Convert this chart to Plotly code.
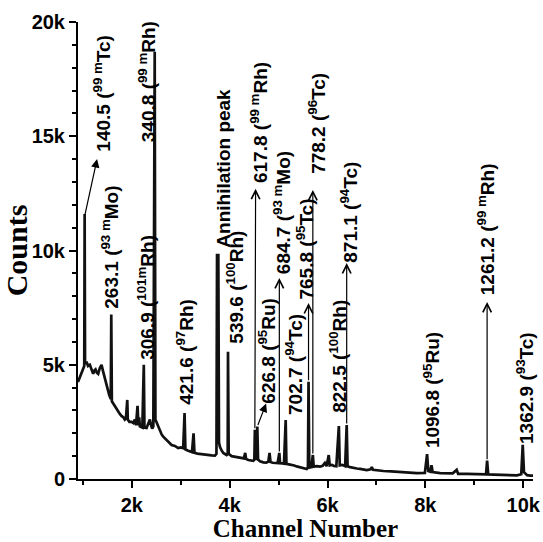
import plotly.graph_objects as go

# ---------------- data ----------------
channel = [900, 935, 972, 1005, 1028, 1036, 1044, 1074, 1105, 1142, 1175, 1210, 1235, 1258,
           1285, 1312, 1345, 1381, 1414, 1450, 1483, 1510, 1537, 1570, 1580, 1592, 1620,
           1653, 1690, 1721, 1755, 1789, 1825, 1857, 1880, 1907, 1918, 1950, 1995, 2030,
           2062, 2085, 2117, 2135, 2150, 2165, 2185, 2215, 2245, 2258, 2302, 2340, 2369,
           2395, 2416, 2440, 2452, 2468, 2482, 2510, 2539, 2573, 2610, 2642, 2711, 2760,
           2813, 2880, 2948, 3000, 3050, 3078, 3095, 3140, 3187, 3230, 3262, 3280, 3340,
           3392, 3480, 3562, 3630, 3699, 3730, 3742, 3768, 3782, 3801, 3835, 3869, 3937,
           3960, 3966, 3980, 4040, 4100, 4142, 4200, 4245, 4290, 4318, 4335, 4381, 4430,
           4484, 4505, 4515, 4527, 4550, 4565, 4580, 4620, 4687, 4750, 4790, 4815, 4835,
           4880, 4926, 4980, 5015, 5030, 5080, 5110, 5145, 5160, 5210, 5268, 5320, 5371,
           5420, 5473, 5530, 5575, 5600, 5612, 5628, 5670, 5700, 5718, 5780, 5847, 5900,
           5945, 5980, 6025, 6045, 6090, 6130, 6180, 6232, 6250, 6300, 6360, 6392, 6410,
           6460, 6528, 6600, 6665, 6740, 6802, 6880, 6905, 6930, 7000, 7142, 7300, 7484,
           7650, 7825, 7990, 8035, 8060, 8100, 8125, 8150, 8302, 8450, 8560, 8640, 8670,
           8848, 9000, 9120, 9240, 9262, 9285, 9400, 9529, 9700, 9871, 9960, 9990, 10015,
           10080, 10143, 10200]
counts = [4250, 4450, 4640, 4800, 4950, 11600, 5050, 5130, 4950, 5000, 4750, 4600, 4750, 4800,
          4650, 4600, 4850, 5000, 4700, 4400, 4100, 3850, 3680, 3500, 7200, 3400, 3300,
          3190, 3050, 2950, 2850, 2760, 2700, 2600, 2650, 3460, 2600, 2500, 2500, 2450,
          2600, 2350, 3200, 2350, 2700, 2300, 2290, 2250, 5000, 2250, 2230, 2400, 2600,
          2350, 2200, 2300, 17200, 18700, 2600, 2450, 2360, 2100, 1950, 1850, 1700, 1580,
          1490, 1450, 1350, 1380, 1350, 2890, 1300, 1250, 1200, 1180, 2000, 1150, 1110,
          1090, 1070, 1050, 1030, 1020, 1100, 9800, 9800, 1600, 1410, 1250, 1140, 1050,
          1100, 5570, 1100, 1000, 980, 960, 940, 920, 900, 1140, 880, 830, 820,
          800, 850, 2150, 900, 850, 2300, 850, 780, 730, 720, 760, 1140, 740,
          710, 700, 700, 1140, 690, 680, 670, 2580, 660, 640, 620, 590, 550,
          520, 480, 460, 440, 500, 4260, 500, 520, 1050, 540, 560, 540, 580,
          700, 560, 1050, 600, 620, 570, 560, 2320, 600, 620, 560, 2360, 560,
          520, 480, 460, 440, 420, 390, 420, 520, 400, 380, 350, 330, 300,
          280, 260, 270, 1090, 350, 320, 600, 300, 260, 240, 250, 400, 220,
          220, 210, 200, 200, 800, 200, 190, 180, 170, 160, 210, 1500, 300,
          170, 150, 150]

xtick_vals = [2000, 4000, 6000, 8000, 10000]
xtick_text = ["2k", "4k", "6k", "8k", "10k"]
xminor_vals = [1000, 3000, 5000, 7000, 9000]
ytick_vals = [0, 5000, 10000, 15000, 20000]
ytick_text = ["0", "5k", "10k", "15k", "20k"]
yminor_vals = [1000, 2000, 3000, 4000, 6000, 7000, 8000, 9000,
               11000, 12000, 13000, 14000, 16000, 17000, 18000, 19000]

label_text = ["140.5 (<sup>99 m</sup>Tc)", "263.1 (<sup>93 m</sup>Mo)",
              "306.9 (<sup>101m</sup>Rh)", "340.8 (<sup>99 m</sup>Rh)",
              "421.6 (<sup>97</sup>Rh)", "Annihilation peak",
              "539.6 (<sup>100</sup>Rh)", "617.8 (<sup>99 m</sup>Rh)",
              "626.8 (<sup>95</sup>Ru)", "684.7 (<sup>93 m</sup>Mo)",
              "702.7 (<sup>94</sup>Tc)", "765.8 (<sup>95</sup>Tc)",
              "778.2 (<sup>96</sup>Tc)", "822.5 (<sup>100</sup>Rh)",
              "871.1 (<sup>94</sup>Tc)", "1096.8 (<sup>95</sup>Ru)",
              "1261.2 (<sup>99 m</sup>Rh)", "1362.9 (<sup>93</sup>Tc)"]
label_ch = [1388, 1560, 2290, 2302, 3085, 3883, 4108, 4585, 4762, 5070,
            5301, 5545, 5770, 6222, 6440, 8132, 9240, 10041]
label_base = [14300, 7400, 5150, 14700, 3200, 10100, 5900, 12900, 3250, 8900,
              2750, 7800, 13300, 2850, 9400, 1300, 8000, 1500]

arrow_tail_ch = [1036, 4515, 4565, 5015, 5612, 5700, 6392, 9262]
arrow_tail_counts = [11500, 2150, 2300, 1140, 4260, 1050, 2360, 800]
arrow_head_ch = [1290, 4530, 4745, 5015, 5612, 5700, 6392, 9262]
arrow_head_counts = [14000, 12700, 3300, 8800, 7700, 12650, 9450, 7750]
arrow_style = [2, 5, 2, 5, 5, 5, 5, 5]

# ---------------- figure ----------------
fig = go.Figure()
fig.add_trace(go.Scatter(x=channel, y=counts, mode="lines",
                         line=dict(color="#111111", width=2.7),
                         hoverinfo="x+y", showlegend=False))

annotations = []
for t, c, b in zip(label_text, label_ch, label_base):
    annotations.append(dict(x=c, y=b, xref="x", yref="y", text=t, textangle=-90,
                            showarrow=False, xanchor="center", yanchor="bottom",
                            borderpad=0,
                            font=dict(family="Liberation Sans", size=19,
                                      color="black", weight="bold")))
for tc, tv, hc, hv, st in zip(arrow_tail_ch, arrow_tail_counts, arrow_head_ch,
                              arrow_head_counts, arrow_style):
    annotations.append(dict(x=hc, y=hv, ax=tc, ay=tv, xref="x", yref="y",
                            axref="x", ayref="y", text="", showarrow=True,
                            arrowhead=st, arrowsize=1.4, arrowwidth=1.2,
                            arrowcolor="black", standoff=0, startstandoff=0))

tickfont = dict(family="Liberation Sans", size=20, color="black", weight="bold")
fig.update_layout(
    width=543, height=542,
    margin=dict(l=78, r=10, t=22, b=63, autoexpand=False),
    paper_bgcolor="white", plot_bgcolor="white",
    showlegend=False,
    annotations=annotations,
    xaxis=dict(range=[900, 10200], showline=True, linewidth=2, linecolor="black",
               automargin=False,
               showgrid=False, zeroline=False, ticks="outside", ticklen=7,
               tickwidth=2, tickcolor="black", tickmode="array",
               tickvals=xtick_vals, ticktext=xtick_text, tickfont=tickfont,
               minor=dict(ticks="outside", ticklen=4, tickwidth=1.5,
                          tickcolor="black", tickmode="array",
                          tickvals=xminor_vals, showgrid=False),
               title=dict(text="Channel Number", standoff=11,
                          font=dict(family="Liberation Serif", size=25,
                                    color="black", weight="bold"))),
    yaxis=dict(range=[0, 20000], showline=True, linewidth=2, linecolor="black",
               automargin=False,
               showgrid=False, zeroline=False, ticks="outside", ticklen=7,
               tickwidth=2, tickcolor="black", tickmode="array",
               tickvals=ytick_vals, ticktext=ytick_text, tickfont=tickfont,
               minor=dict(ticks="outside", ticklen=4, tickwidth=1.5,
                          tickcolor="black", tickmode="array",
                          tickvals=yminor_vals, showgrid=False),
               title=dict(text="Counts", standoff=4,
                          font=dict(family="Liberation Serif", size=30,
                                    color="black", weight="bold"))),
)

fig.write_html("out.html")
